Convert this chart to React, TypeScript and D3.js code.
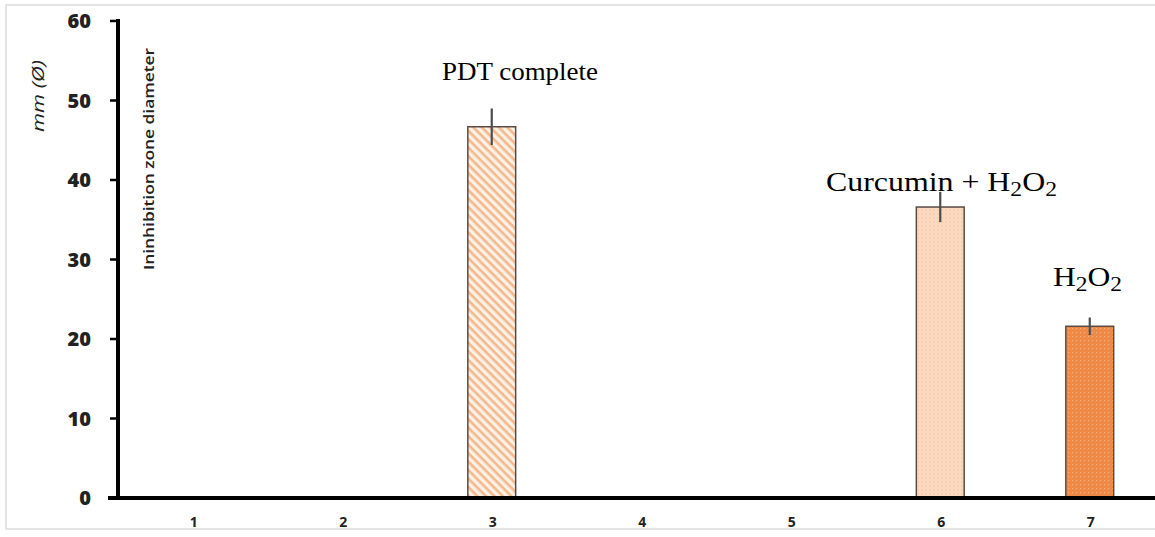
import React from "react";
import * as d3 from "d3";

const categories = ["1", "2", "3", "4", "5", "6", "7"];
const values = [0, 0, 46.7, 0, 0, 36.6, 21.6];
const errors = [0, 0, 2.3, 0, 0, 1.9, 1.1];
const yTicks = [0, 10, 20, 30, 40, 50, 60];

const W = 1155;
const H = 537;

export default function App() {
  const x = d3.scaleBand<string>().domain(categories).range([118, 1164.5]);
  const y = d3.scaleLinear().domain([0, 60]).range([498, 21]);
  const bw = x.bandwidth() * 0.32;
  const fills = ["", "", "url(#hatch)", "", "", "url(#dots)", "url(#grid)"];
  const serif = "'Liberation Serif', 'Times New Roman', serif";

  return (
    <div style={{ position: "absolute", left: 0, top: 0 }}>
      <svg width={W} height={H} style={{ display: "block", background: "#fff" }}>
        <defs>
          <pattern id="hatch" width="6" height="6" patternUnits="userSpaceOnUse" patternTransform="rotate(45)">
            <rect width="6" height="6" fill="#fdf0e4" />
            <rect width="6" height="2.6" fill="#f2b88f" />
          </pattern>
          <pattern id="dots" width="4" height="4" patternUnits="userSpaceOnUse">
            <rect width="4" height="4" fill="#fbd9bf" />
            <circle cx="2" cy="2" r="0.8" fill="#f3c4a2" />
          </pattern>
          <pattern id="grid" width="4" height="4" patternUnits="userSpaceOnUse">
            <rect width="4" height="4" fill="#ee8a45" />
            <rect x="0" y="0" width="1.2" height="1.2" fill="#f4ad7c" />
          </pattern>
        </defs>
        <rect x={6} y={5} width={1160} height={524} fill="none" stroke="#dcdcdc" strokeWidth={1.5} />

        {categories.map((c, i) =>
          values[i] > 0 ? (
            <g key={c}>
              <rect
                x={(x(c) as number) + x.bandwidth() / 2 - bw / 2}
                y={y(values[i])}
                width={bw}
                height={y(0) - y(values[i])}
                fill={fills[i]}
                stroke="#5a4a44"
                strokeWidth={1.5}
              />
              <line
                x1={(x(c) as number) + x.bandwidth() / 2}
                x2={(x(c) as number) + x.bandwidth() / 2}
                y1={y(values[i] + errors[i])}
                y2={y(values[i] - errors[i])}
                stroke="#4d4d4d"
                strokeWidth={2.2}
              />
            </g>
          ) : null
        )}

        <line x1={118} x2={118} y1={19} y2={500} stroke="#000" strokeWidth={4} />
        <line x1={108} x2={W} y1={498} y2={498} stroke="#000" strokeWidth={4} />
        {yTicks.map((t) => (
          <g key={t}>
            <line x1={110} x2={118} y1={y(t)} y2={y(t)} stroke="#000" strokeWidth={2.5} />
            <text
              x={91}
              y={y(t)}
              dy="0.36em"
              textAnchor="end"
              fontFamily="'Open Sans', sans-serif"
              fontWeight={800}
              fontSize={20}
              fill="#222"
            >
              {t}
            </text>
          </g>
        ))}
        {categories.map((c) => (
          <text
            key={c}
            x={(x(c) as number) + x.bandwidth() / 2 + 1}
            y={527}
            textAnchor="middle"
            fontFamily="'Open Sans', sans-serif"
            fontWeight={700}
            fontSize={14}
            fill="#222"
          >
            {c}
          </text>
        ))}

        <text
          transform="translate(44,96) rotate(-90)"
          textAnchor="middle"
          fontFamily="'Open Sans', sans-serif"
          fontStyle="italic"
          fontSize={17}
          textLength={72}
          lengthAdjust="spacingAndGlyphs"
          fill="#222"
        >
          mm (Ø)
        </text>
        <text
          transform="translate(154,159) rotate(-90)"
          textAnchor="middle"
          fontFamily="'Open Sans', sans-serif"
          fontWeight={600}
          fontSize={15}
          textLength={222}
          lengthAdjust="spacingAndGlyphs"
          fill="#222"
        >
          Ininhibition zone diameter
        </text>

        <text x={520} y={80} textAnchor="middle" fontFamily={serif} fontSize={26} textLength={156} lengthAdjust="spacingAndGlyphs" fill="#000">
          PDT complete
        </text>
        <text x={826} y={191} fontFamily={serif} fontSize={27} textLength={231} lengthAdjust="spacingAndGlyphs" fill="#000">
          Curcumin + H<tspan fontSize={20} dy={5}>2</tspan>
          <tspan dy={-5}>O</tspan>
          <tspan fontSize={20} dy={5}>2</tspan>
        </text>
        <text x={1053} y={286} fontFamily={serif} fontSize={27} textLength={69} lengthAdjust="spacingAndGlyphs" fill="#000">
          H<tspan fontSize={20} dy={5}>2</tspan>
          <tspan dy={-5}>O</tspan>
          <tspan fontSize={20} dy={5}>2</tspan>
        </text>
      </svg>
    </div>
  );
}
